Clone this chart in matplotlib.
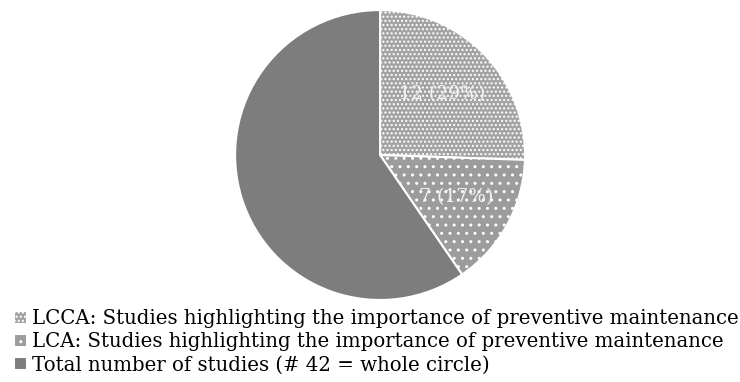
import matplotlib
matplotlib.use("Agg")
import matplotlib.pyplot as plt

# Data
categories = [
    "LCCA: Studies highlighting the importance of preventive maintenance",
    "LCA: Studies highlighting the importance of preventive maintenance",
    "Total number of studies (# 42 = whole circle)",
]
values = [12, 7, 28]
slice_labels = ["12 (29%)", "7 (17%)", ""]

colors = ["#a3a3a3", "#9c9c9c", "#7d7d7d"]
hatches = ["....", "..", ""]

plt.rcParams["font.family"] = ["DejaVu Serif"]
plt.rcParams["hatch.linewidth"] = 1.0

fig = plt.figure(figsize=(7.40, 3.82), dpi=100)
ax = fig.add_axes([0.3176, 0.2147, 0.392, 0.759])

lab_iter = iter(slice_labels)
wedges, texts, autotexts = ax.pie(
    values,
    startangle=90,
    counterclock=False,
    colors=colors,
    autopct=lambda p: next(lab_iter),
    pctdistance=0.6,
    wedgeprops=dict(edgecolor="white", linewidth=1.5),
    textprops=dict(color="#f2f2f2", fontsize=13.5),
)
for w, h in zip(wedges, hatches):
    w.set_hatch(h)
ax.set_xlim(-1, 1)
ax.set_ylim(-1, 1)
ax.set_aspect("equal")

fig.legend(
    wedges,
    categories,
    loc="upper left",
    bbox_to_anchor=(0.019, 0.19),
    frameon=False,
    fontsize=14.2,
    handlelength=0.65,
    handleheight=0.65,
    handletextpad=0.25,
    labelspacing=0.2,
    borderpad=0,
    borderaxespad=0,
)

fig.savefig("out.png", dpi=100)
